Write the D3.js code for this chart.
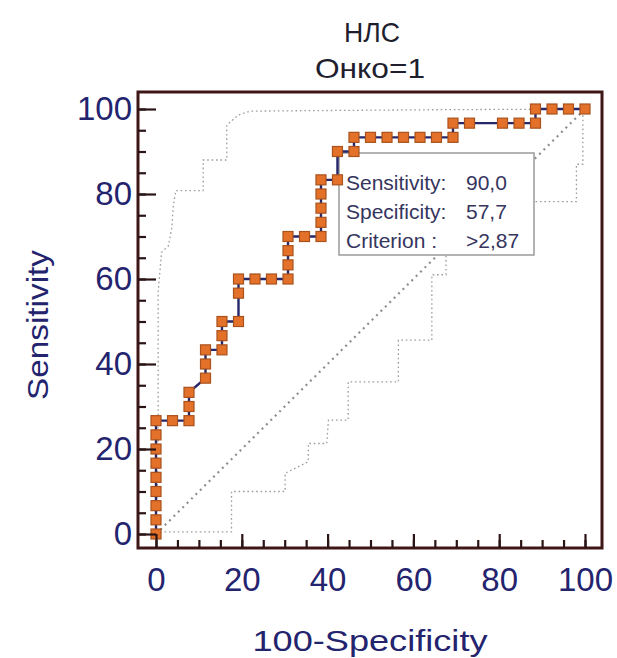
<!DOCTYPE html>
<html>
<head>
<meta charset="utf-8">
<script src="https://cdn.jsdelivr.net/npm/d3@7"></script>
<style>
  html, body { margin: 0; padding: 0; background: #fff; }
  svg { display: block; }
  text { font-family: "Liberation Sans", Arial, sans-serif; }
</style>
</head>
<body>
<svg id="chart" width="617" height="658"></svg>
<script>
// ROC curve for НЛС, outcome Онко=1
const rocFpr  = [0, 0, 0, 0, 0, 0, 0, 0, 0,
                 3.85, 7.69, 7.69, 7.69,
                 11.54, 11.54, 11.54,
                 15.38, 15.38, 15.38,
                 19.23, 19.23, 19.23,
                 23.08, 26.92, 30.77, 30.77, 30.77, 30.77,
                 34.62, 38.46, 38.46, 38.46, 38.46, 38.46,
                 42.3, 42.3,
                 46.15, 46.15, 50, 53.85, 57.69, 61.54, 65.38, 69.23,
                 69.23, 73.08, 80.77, 84.62, 88.46,
                 88.46, 92.31, 96.15, 100];
const rocSens = [0, 3.33, 6.67, 10, 13.33, 16.67, 20, 23.33, 26.67,
                 26.67, 26.67, 30, 33.33,
                 36.67, 40, 43.33,
                 43.33, 46.67, 50,
                 50, 56.67, 60,
                 60, 60, 60, 63.33, 66.67, 70,
                 70, 70, 73.33, 76.67, 80, 83.33,
                 83.33, 90,
                 90, 93.33, 93.33, 93.33, 93.33, 93.33, 93.33, 93.33,
                 96.67, 96.67, 96.67, 96.67, 96.67,
                 100, 100, 100, 100];

// 95% confidence bounds
const upperFpr  = [0, 0.5, 0.5, 1.3, 2.9, 3.7, 4.0, 4.6, 11.0, 11.0, 16.5, 16.5, 19.2, 21.9, 60, 100];
const upperSens = [0, 20, 57, 66.3, 67.8, 72.2, 76.9, 80.8, 80.8, 88, 88, 96.2, 98.6, 99.5, 99.8, 100];
const lowerFpr  = [0, 2, 17.6, 17.6, 30.1, 30.1, 35.5, 35.5, 39.8, 40.2, 44.8, 44.8, 56.5, 56.5, 64.3, 64.3, 67.6, 67.6, 80, 80, 98, 98, 99.5, 99.5, 100];
const lowerSens = [0, 0.5, 0.5, 10, 10, 14.3, 17, 21.3, 21.3, 26.8, 26.8, 35.8, 35.8, 45.6, 45.6, 61, 61, 70, 70, 78.2, 78.2, 87, 87, 99.5, 100];

// selected cut-off
const criterionSens = 90.0;
const criterionSpec = 57.7;
const criterionText = ">2,87";

const xTicks = [0, 20, 40, 60, 80, 100];
const yTicks = [0, 20, 40, 60, 80, 100];
const minorTicks = d3.range(0, 101, 5);

const svg = d3.select("#chart");
const frame = { x0: 138, y0: 92, x1: 602, y1: 548 };
const x = d3.scaleLinear().domain([0, 100]).range([156, 585]);
const y = d3.scaleLinear().domain([0, 100]).range([534, 109]);

const navy = "#23236e";
const tickCol = "#2b1414";
const fmt = v => d3.format(".1f")(v).replace(".", ",");

// titles
svg.append("text").attr("x", 372).attr("y", 42).attr("text-anchor", "middle")
  .attr("font-size", 28).attr("fill", "#1e1e2e")
  .attr("textLength", 56).attr("lengthAdjust", "spacingAndGlyphs").text("НЛС");
svg.append("text").attr("x", 370).attr("y", 78).attr("text-anchor", "middle")
  .attr("font-size", 28).attr("fill", "#1e1e2e")
  .attr("textLength", 110).attr("lengthAdjust", "spacingAndGlyphs").text("Онко=1");

// plot area
svg.append("rect").attr("x", frame.x0).attr("y", frame.y0)
  .attr("width", frame.x1 - frame.x0).attr("height", frame.y1 - frame.y0)
  .attr("fill", "#fff");

// reference diagonal
const line = d3.line().x(d => x(d[0])).y(d => y(d[1]));
svg.append("path").datum([[0, 0], [100, 100]]).attr("d", line)
  .attr("fill", "none").attr("stroke", "#8e8e8e").attr("stroke-width", 2.2)
  .attr("stroke-dasharray", "2,4.2");

// confidence bounds
const upper = upperFpr.map((v, i) => [v, upperSens[i]]);
const lower = lowerFpr.map((v, i) => [v, lowerSens[i]]);
[upper, lower].forEach(pts => {
  svg.append("path").datum(pts).attr("d", line)
    .attr("fill", "none").attr("stroke", "#9c9c9c").attr("stroke-width", 1.3)
    .attr("stroke-dasharray", "1.6,2.8");
});

// tooltip box for the chosen criterion
const box = svg.append("g");
box.append("rect").attr("x", 339).attr("y", 153).attr("width", 195).attr("height", 102)
  .attr("fill", "#fff").attr("stroke", "#9a9a9a").attr("stroke-width", 1.5);
const rows = [
  ["Sensitivity:", fmt(criterionSens)],
  ["Specificity:", fmt(criterionSpec)],
  ["Criterion :", criterionText]
];
rows.forEach((r, i) => {
  box.append("text").attr("x", 346).attr("y", 190 + i * 29)
    .attr("font-size", 21).attr("fill", "#35355e").text(r[0]);
  box.append("text").attr("x", 466).attr("y", 190 + i * 29)
    .attr("font-size", 21).attr("fill", "#35355e").text(r[1]);
});

// ROC curve
const roc = rocFpr.map((v, i) => [v, rocSens[i]]);
svg.append("path").datum(roc).attr("d", line)
  .attr("fill", "none").attr("stroke", "#26266a").attr("stroke-width", 2.4);
const sq = 10;
svg.append("g").selectAll("rect").data(roc).join("rect")
  .attr("x", d => x(d[0]) - sq / 2).attr("y", d => y(d[1]) - sq / 2)
  .attr("width", sq).attr("height", sq)
  .attr("fill", "#e4712a").attr("stroke", "#a9521d").attr("stroke-width", 1.2);

// frame
svg.append("rect").attr("x", frame.x0).attr("y", frame.y0)
  .attr("width", frame.x1 - frame.x0).attr("height", frame.y1 - frame.y0)
  .attr("fill", "none").attr("stroke", "#3f1616").attr("stroke-width", 3);

// tick marks pointing inward from the frame
function inwardTicks(axisFn, translate, values, size) {
  const g = svg.append("g").attr("transform", translate)
    .call(axisFn.tickValues(values).tickSize(size).tickFormat(""));
  g.select(".domain").remove();
  g.selectAll("line").attr("stroke", tickCol).attr("stroke-width", 2.2);
}
inwardTicks(d3.axisRight(y), `translate(${frame.x0},0)`, minorTicks, 8);
inwardTicks(d3.axisRight(y), `translate(${frame.x0},0)`, yTicks, 18);
inwardTicks(d3.axisTop(x), `translate(0,${frame.y1})`, minorTicks, 8);
inwardTicks(d3.axisTop(x), `translate(0,${frame.y1})`, xTicks, 14);

// tick labels
const yl = svg.append("g").attr("transform", "translate(132,0)")
  .call(d3.axisLeft(y).tickValues(yTicks).tickSize(0).tickPadding(0));
yl.select(".domain").remove();
yl.selectAll("text").attr("font-size", 33).attr("fill", navy)
  .attr("font-family", "'Liberation Sans', Arial, sans-serif");

const xl = svg.append("g").attr("transform", "translate(0,568)")
  .call(d3.axisBottom(x).tickValues(xTicks).tickSize(0).tickPadding(0));
xl.select(".domain").remove();
xl.selectAll("text").attr("font-size", 33).attr("fill", navy)
  .attr("font-family", "'Liberation Sans', Arial, sans-serif");

// axis titles
svg.append("text").attr("transform", "translate(48,325) rotate(-90)")
  .attr("text-anchor", "middle").attr("font-size", 30).attr("fill", navy)
  .attr("textLength", 150).attr("lengthAdjust", "spacingAndGlyphs").text("Sensitivity");
svg.append("text").attr("x", 370).attr("y", 651).attr("text-anchor", "middle")
  .attr("font-size", 29).attr("fill", navy)
  .attr("textLength", 235).attr("lengthAdjust", "spacingAndGlyphs").text("100-Specificity");
</script>
</body>
</html>
